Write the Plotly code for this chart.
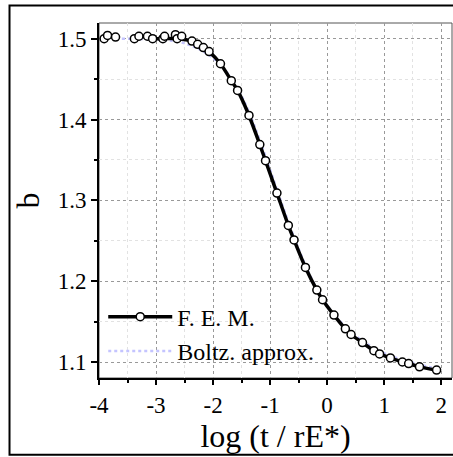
import plotly.graph_objects as go

# F.E.M. data points
fem_x = [-3.91, -3.85, -3.71, -3.38, -3.30, -3.15, -3.06, -2.88, -2.85, -2.66, -2.63, -2.55,
         -2.37, -2.27, -2.17, -2.07, -1.87, -1.68, -1.57, -1.37, -1.18, -1.08, -0.88, -0.68,
         -0.58, -0.38, -0.18, -0.08, 0.12, 0.32, 0.42, 0.62, 0.82, 0.92, 1.11, 1.32, 1.43,
         1.62, 1.92]
fem_y = [1.500, 1.504, 1.502, 1.500, 1.503, 1.503, 1.500, 1.500, 1.503, 1.505, 1.500, 1.503,
         1.497, 1.493, 1.489, 1.484, 1.469, 1.448, 1.436, 1.405, 1.369, 1.349, 1.309, 1.269,
         1.251, 1.217, 1.189, 1.177, 1.158, 1.141, 1.134, 1.124, 1.114, 1.110, 1.105, 1.100,
         1.098, 1.094, 1.090]
# indices of points the smooth F.E.M. curve runs through
fem_line_idx = [6, 7, 10] + list(range(12, 39))

# Boltzmann approximation
boltz_x = [-3.6, -3.0, -2.6, -2.3, -2.0, -1.8, -1.6, -1.4, -1.2, -1.0, -0.8, -0.6, -0.4,
           -0.2, 0.0, 0.3, 0.6, 1.0, 1.4, 1.9]
boltz_y = [1.500, 1.499, 1.496, 1.489, 1.476, 1.462, 1.442, 1.414, 1.378, 1.338, 1.297,
           1.258, 1.223, 1.193, 1.170, 1.145, 1.127, 1.111, 1.101, 1.092]

x_ticks = [-4, -3, -2, -1, 0, 1, 2]
y_ticks = [1.1, 1.2, 1.3, 1.4, 1.5]

FONT = "Liberation Serif, Times New Roman, serif"

fig = go.Figure()

fig.add_trace(go.Scatter(
    x=boltz_x, y=boltz_y, mode="lines", name="Boltz. approx.",
    line=dict(color="#c4c4ff", width=2.5, dash="dot", shape="spline"),
))
fig.add_trace(go.Scatter(
    x=[fem_x[i] for i in fem_line_idx], y=[fem_y[i] for i in fem_line_idx],
    mode="lines", showlegend=False,
    line=dict(color="black", width=3.5, shape="spline", smoothing=0.8),
))
fig.add_trace(go.Scatter(
    x=fem_x, y=fem_y, mode="markers", showlegend=False,
    marker=dict(size=8, color="white", line=dict(color="black", width=1.5)),
))
# legend entry for F.E.M.
fig.add_trace(go.Scatter(
    x=[None], y=[None], mode="lines+markers", name="F. E. M.",
    line=dict(color="black", width=3.5),
    marker=dict(size=8, color="white", line=dict(color="black", width=1.5)),
))

axis_common = dict(
    showline=True, linecolor="black", linewidth=2,
    ticks="outside", tickwidth=1.5, tickcolor="black",
    showgrid=True, gridcolor="#999999", griddash="dot", gridwidth=1,
    zeroline=False, automargin=False,
    tickfont=dict(family=FONT, size=23, color="black"),
    title_font=dict(family=FONT, size=32, color="black"),
)

fig.update_xaxes(
    range=[-4, 2.19], tickvals=x_ticks, ticktext=[str(v) for v in x_ticks],
    title_text="log (t / rE*)", title_standoff=4, ticklen=5,
    minor=dict(dtick=0.5, tick0=0, ticks="outside", ticklen=3, tickcolor="black",
               showgrid=True, gridcolor="#e2e2e2", griddash="dot", gridwidth=1),
    **axis_common,
)
fig.update_yaxes(
    range=[1.0802, 1.5194], tickvals=y_ticks, ticktext=[f"{v:.1f}" for v in y_ticks],
    title_text="b", title_standoff=8, ticklen=6,
    minor=dict(dtick=0.05, tick0=0, ticks="outside", ticklen=3, tickcolor="black",
               showgrid=True, gridcolor="#e2e2e2", griddash="dot", gridwidth=1),
    **axis_common,
)

# plot-area border (thin) and outer frame
fig.add_shape(type="rect", xref="paper", yref="paper", x0=0, y0=0, x1=1, y1=1,
              line=dict(color="#555555", width=1), layer="below")
fig.add_shape(type="rect", xref="paper", yref="paper",
              x0=-0.2535, y0=-0.2165, x1=1.1, y1=1.049,
              line=dict(color="black", width=2))

fig.update_layout(
    width=453, height=457,
    margin=dict(l=99, r=1, t=23, b=79),
    paper_bgcolor="white", plot_bgcolor="white",
    font=dict(family=FONT, color="black"),
    legend=dict(
        x=0.012, y=0.235, xanchor="left", yanchor="top",
        bgcolor="rgba(0,0,0,0)", font=dict(family=FONT, size=24, color="black"),
        traceorder="reversed", itemwidth=64, tracegroupgap=0,
    ),
)

fig.write_html("out.html")
